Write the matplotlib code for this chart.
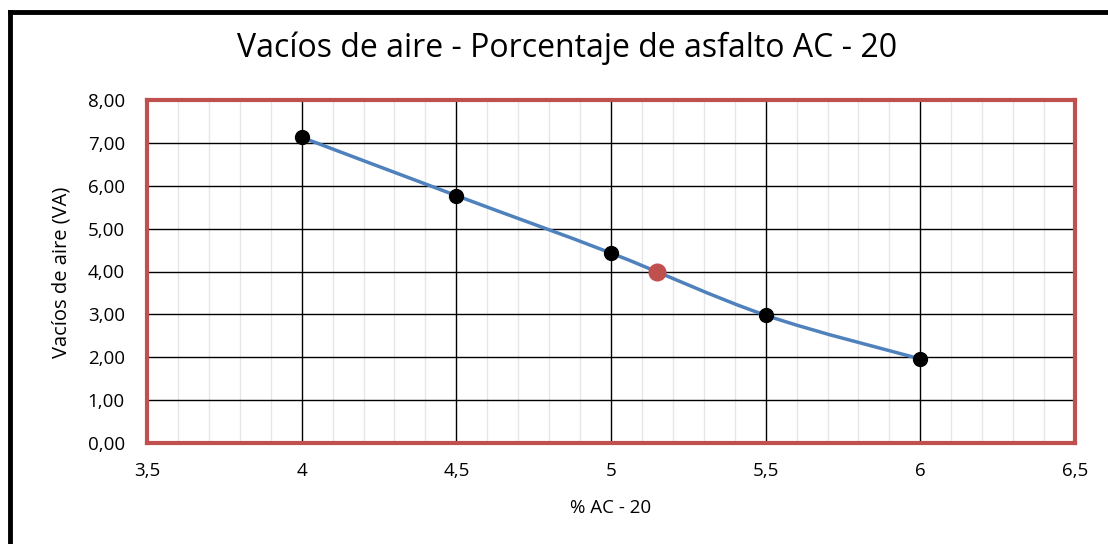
import matplotlib.pyplot as plt
import numpy as np
from matplotlib.path import Path
from matplotlib.patches import PathPatch
from matplotlib.lines import Line2D
from matplotlib.ticker import MultipleLocator, FuncFormatter

plt.rcParams['font.family'] = ['Open Sans', 'DejaVu Sans']

# data
asphalt_pct = [4.0, 4.5, 5.0, 5.5, 6.0]
air_voids = [7.13, 5.77, 4.43, 2.98, 1.96]
optimum_pct = [5.15]
optimum_voids = [4.00]


def smooth_path(xs, ys, tension=1 / 6):
    """Excel-like smoothed line: Catmull-Rom segments as cubic Beziers."""
    pts = np.column_stack([xs, ys])
    verts = [pts[0]]
    codes = [Path.MOVETO]
    n = len(pts)
    for i in range(n - 1):
        p0 = pts[max(i - 1, 0)]
        p1 = pts[i]
        p2 = pts[i + 1]
        p3 = pts[min(i + 2, n - 1)]
        c1 = p1 + (p2 - p0) * tension
        c2 = p2 - (p3 - p1) * tension
        verts += [c1, c2, p2]
        codes += [Path.CURVE4] * 3
    return Path(verts, codes)


W, H = 1108, 544
fig = plt.figure(figsize=(W / 100, H / 100), dpi=100)
ax = fig.add_axes([147 / W, 1 - 443 / H, 928 / W, 343 / H])

ax.set_xlim(3.5, 6.5)
ax.set_ylim(0, 8)

# grid
ax.xaxis.set_major_locator(MultipleLocator(0.5))
ax.xaxis.set_minor_locator(MultipleLocator(0.1))
ax.yaxis.set_major_locator(MultipleLocator(1))
ax.grid(which='minor', axis='x', color='#e6e6e6', lw=1)
ax.grid(which='major', axis='both', color='black', lw=1)
ax.set_axisbelow(True)

ax.xaxis.set_major_formatter(FuncFormatter(
    lambda v, p: (f'{v:g}').replace('.', ',')))
ax.yaxis.set_major_formatter(FuncFormatter(
    lambda v, p: f'{v:.2f}'.replace('.', ',')))
ax.tick_params(which='both', length=0, labelsize=13.5)
ax.tick_params(axis='y', pad=16)
ax.tick_params(axis='x', pad=14)

for s in ax.spines.values():
    s.set_color('#c0504d')
    s.set_linewidth(3)

# curve and points
ax.add_patch(PathPatch(smooth_path(asphalt_pct, air_voids), fill=False,
                       edgecolor='#4f81bd', lw=2.5, zorder=3))
ax.plot(asphalt_pct, air_voids, 'o', color='black', ms=10, zorder=4)
ax.plot(optimum_pct, optimum_voids, 'o', color='#c0504d', ms=12, zorder=4)

fig.text(567 / W, 1 - 48 / H, 'Vacíos de aire - Porcentaje de asfalto AC - 20',
         fontsize=23, ha='center', va='center')
ax.set_xlabel('% AC - 20', fontsize=13.5)
ax.xaxis.set_label_coords(0.5, -(508 - 443) / 343)
ax.xaxis.label.set_va('center')
ax.set_ylabel('Vacíos de aire (VA)', fontsize=14.5)
ax.yaxis.set_label_coords(-(147 - 62) / 928, (443 - 272) / 343)
ax.yaxis.label.set_va('center')

# outer frame (top and left edges visible)
fig.add_artist(Line2D([10 / W, 1], [1 - 12 / H, 1 - 12 / H],
                      transform=fig.transFigure, color='black', lw=3.5))
fig.add_artist(Line2D([10 / W, 10 / W], [0, 1 - 12 / H],
                      transform=fig.transFigure, color='black', lw=3.5))

fig.savefig('out.png', dpi=100)
